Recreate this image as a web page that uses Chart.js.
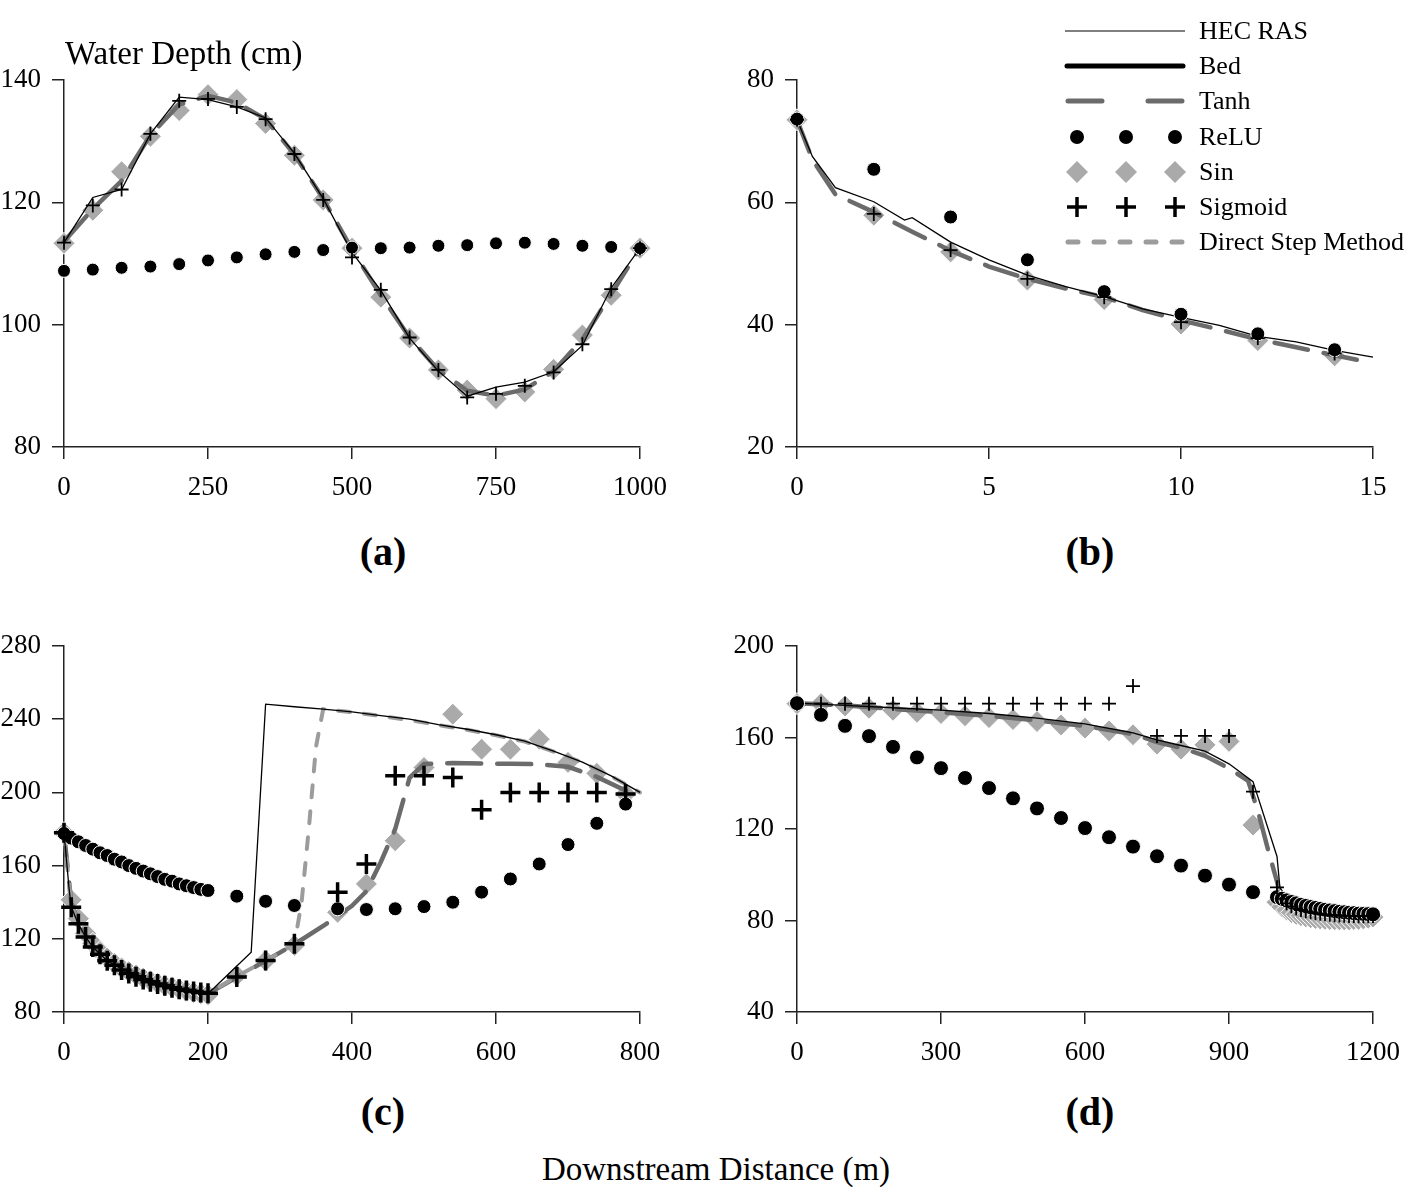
<!DOCTYPE html>
<html>
<head>
<meta charset="utf-8">
<script src="https://cdn.jsdelivr.net/npm/chart.js@4.4.0/dist/chart.umd.min.js"></script>
<style>
  body { margin: 0; background: #fff; font-family: "Liberation Serif", serif; }
  #page { position: relative; width: 1419px; height: 1187px; }
  canvas { position: absolute; }
  .lbl { position: absolute; line-height: 1; color: #000; white-space: nowrap; }
  .panel { width: 200px; text-align: center; font-weight: bold; font-size: 40px; }
</style>
</head>
<body>
<div id="page">
  <canvas id="chart-a" width="680" height="462" style="left:0;top:40px"></canvas>
  <canvas id="chart-b" width="686" height="502" style="left:733px;top:0"></canvas>
  <canvas id="chart-c" width="680" height="467" style="left:0;top:600px"></canvas>
  <canvas id="chart-d" width="686" height="467" style="left:733px;top:600px"></canvas>
  <div class="lbl" style="left:65px;top:37px;font-size:33px">Water Depth (cm)</div>
  <div class="lbl panel" style="left:283px;top:532px">(a)</div>
  <div class="lbl panel" style="left:990px;top:532px">(b)</div>
  <div class="lbl panel" style="left:283px;top:1092px">(c)</div>
  <div class="lbl panel" style="left:990px;top:1092px">(d)</div>
  <div class="lbl" style="left:0;width:1432px;text-align:center;top:1153px;font-size:33px">Downstream Distance (m)</div>
</div>
<script>
// ---- (a) sine-shaped bed ----
const aX = [0, 50, 100, 150, 200, 250, 300, 350, 400, 450, 500, 550, 600, 650, 700, 750, 800, 850, 900, 950, 1000];
const aHec = [113.4, 120.8, 122.1, 131.2, 137.2, 136.8, 135.6, 133.8, 128.0, 120.6, 111.8, 105.6, 97.8, 92.4, 88.3, 89.8, 90.6, 92.3, 96.6, 106.0, 112.5];
const aTanh = [113.6, 118.9, 123.5, 131.0, 136.0, 137.4, 136.3, 133.6, 127.8, 120.6, 112.3, 104.8, 97.9, 92.6, 89.2, 88.4, 89.4, 92.4, 97.6, 105.0, 112.5];
const aSin = [113.3, 118.7, 125.0, 130.8, 135.0, 137.6, 136.8, 132.9, 127.7, 120.4, 112.5, 104.5, 97.8, 92.6, 89.3, 87.9, 89.0, 92.7, 98.3, 104.8, 112.5];
const aRelu = [108.8, 109.0, 109.3, 109.5, 109.9, 110.5, 111.0, 111.5, 111.9, 112.2, 112.6, 112.5, 112.6, 112.9, 113.0, 113.3, 113.4, 113.2, 112.9, 112.7, 112.5];
const aSig = [113.4, 119.5, 122.1, 131.2, 136.6, 136.9, 135.6, 133.6, 127.9, 120.4, 111.0, 105.7, 97.9, 92.6, 88.1, 88.7, 90.0, 92.2, 96.8, 105.8, 112.5];

// ---- (b) ----
const bX = [0, 2, 4, 6, 8, 10, 12, 14];
const bSig = [73.5, 58.1, 52.2, 47.5, 44.5, 40.4, 37.8, 35.3];
const bSin = [73.5, 57.9, 51.9, 47.3, 44.1, 40.1, 37.4, 34.9];
const bRelu = [73.6, 65.4, 57.6, 50.6, 45.4, 41.7, 38.5, 35.9];
const bHecX = [0, 0.4, 1, 2, 2.8, 3, 4, 5, 6, 7, 8, 9, 10, 11, 12, 13, 14, 15];
const bHec = [73.5, 67.5, 62.4, 60.1, 57.1, 57.5, 53.5, 50.6, 48.1, 46.2, 44.6, 42.6, 41.2, 39.9, 38.1, 37.2, 35.8, 34.7];
const bTanhX = [0, 0.4, 1, 2, 3, 4, 5, 6, 7, 8, 9, 10, 11, 12, 13, 14, 14.8];
const bTanh = [73.5, 67.0, 61.3, 58.4, 55.2, 52.1, 49.5, 47.5, 45.9, 44.5, 42.4, 40.7, 39.2, 37.6, 36.3, 35.0, 34.0];

// ---- (c) hydraulic jump ----
const cX = [0, 10, 20, 30, 40, 50, 60, 70, 80, 90, 100, 110, 120, 130, 140, 150, 160, 170, 180, 190, 200,
            240, 280, 320, 380, 420, 460, 500, 540, 580, 620, 660, 700, 740, 780];
const cRelu = [177.5, 175, 173, 171, 169, 167, 165.5, 163.5, 162, 160, 158.5, 157, 155.5, 154, 152.5, 151.5, 150, 149, 148, 147, 146.4,
               143.3, 140.5, 138.2, 136.4, 136, 136.4, 137.6, 140, 145.5, 152.7, 160.9, 171.5, 183.1, 193.6];
const cSig = [178, 137.3, 128.2, 121, 115.5, 111.5, 108, 105.5, 103, 101, 99.2, 97.8, 96.5, 95.3, 94.3, 93.3, 92.5, 91.8, 91.2, 90.6, 90.2,
              99.1, 108.2, 117.3, 145.5, 160.9, 209.1, 209.1, 208.2, 190.5, 200, 200, 200, 200, 199.1];
const cSin = [178, 141.3, 131, 123, 117.5, 113, 109.5, 106.5, 104, 102, 100.2, 98.5, 97, 95.7, 94.5, 93.5, 92.5, 91.5, 90.7, 90, 89.4,
              100, 108, 116.4, 134.5, 150, 173.6, 213.6, 242.7, 223.6, 223.6, 229, 216.4, 210.4, 199.1];
const cHecX = [0, 7, 10, 20, 30, 40, 60, 80, 100, 130, 160, 200, 260, 280, 320, 360, 400, 440, 480, 520, 560, 600, 640, 680, 720, 760, 800];
const cHec = [178, 147.6, 137.5, 128, 121, 115.5, 108, 103.5, 100, 96, 93, 90, 112.7, 248.2, 246.8, 245.5, 244, 242, 240, 237, 234.5, 231.5, 228, 222.5, 216.5, 209, 200];
const cTanhX = [0, 10, 20, 30, 40, 60, 80, 100, 130, 160, 200, 240, 280, 320, 360, 400, 420, 440, 460, 480, 500, 540, 580, 620, 660, 700, 740, 780, 800];
const cTanh = [178, 140, 129, 121.5, 116, 109, 104.5, 100.8, 96.5, 93.3, 90, 99, 108, 117, 127, 138, 146, 162, 180, 208, 215.5, 216, 215.8, 215.6, 215.4, 214, 208.5, 201, 200];
const cDsmX = [0, 10, 20, 30, 40, 60, 80, 100, 130, 160, 200, 240, 280, 320, 330, 340, 350, 360, 400, 440, 480, 520, 560, 600, 640, 680, 720, 760, 800];
const cDsm = [178, 139, 129, 121, 115.5, 108.5, 104, 100.5, 96.2, 93, 90, 99.5, 108, 117, 140, 180, 225, 245.5, 243.8, 241.8, 239.5, 236.8, 234.2, 231.2, 227.8, 222.3, 216.3, 208.8, 200];

// ---- (d) ----
const dX = [0, 50, 100, 150, 200, 250, 300, 350, 400, 450, 500, 550, 600, 650, 700, 750, 800, 850, 900, 950,
            1000, 1010, 1020, 1030, 1040, 1050, 1060, 1070, 1080, 1090, 1100, 1110, 1120, 1130, 1140, 1150, 1160, 1170, 1180, 1190, 1200];
const dRelu = [175.0, 169.9, 165.1, 160.6, 155.9, 151.3, 146.6, 142.3, 137.9, 133.4, 129.0, 124.8, 120.4, 116.4, 112.3, 108.1, 104.0, 99.6, 95.7, 92.4,
               90.2, 89.5, 88.8, 88.1, 87.5, 86.9, 86.4, 85.9, 85.5, 85.1, 84.7, 84.4, 84.1, 83.8, 83.6, 83.4, 83.2, 83.0, 82.9, 82.8, 82.7];
const dSig = [174.8, 174.8, 174.8, 174.8, 174.8, 174.8, 174.8, 174.8, 174.8, 174.8, 174.8, 174.8, 174.8, 174.8, 182.5, 160.7, 160.7, 160.7, 160.7, 136.3,
              94.5, 89.5, 87.5, 86.2, 85.3, 84.6, 84.0, 83.6, 83.2, 82.9, 82.7, 82.5, 82.3, 82.2, 82.1, 82.0, 82.0, 81.9, 81.9, 81.9, 82.0];
const dSin = [174.8, 174.8, 173.8, 172.8, 171.9, 171.0, 170.5, 169.5, 168.7, 167.9, 167.0, 165.5, 164.1, 162.9, 161.2, 157.1, 154.9, 156.8, 158.3, 121.7,
              88.0, 86.0, 84.6, 83.5, 82.7, 82.1, 81.6, 81.2, 80.9, 80.7, 80.5, 80.4, 80.3, 80.3, 80.3, 80.3, 80.4, 80.5, 80.7, 81.0, 81.5];
const dHecX = [0, 100, 200, 300, 400, 500, 600, 700, 750, 800, 850, 900, 950, 1000, 1006, 1020, 1050, 1100, 1150, 1200];
const dHec = [175, 174, 173, 172, 170.5, 168.5, 166, 162, 159, 156.5, 154, 148.5, 140.7, 108, 94.5, 90, 87, 84.5, 83, 82.5];
const dTanhX = [0, 100, 200, 300, 400, 500, 600, 700, 750, 800, 850, 900, 940, 960, 980, 1000, 1010, 1050, 1100, 1150, 1200];
const dTanh = [175, 174, 172.5, 171, 169.5, 167.5, 165, 161.5, 158, 155.5, 152, 146.5, 141, 128, 112, 97, 88, 85, 83.5, 82.5, 82];

const legendLabels = ['HEC RAS', 'Bed', 'Tanh', 'ReLU', 'Sin', 'Sigmoid', 'Direct Step Method'];

Chart.defaults.font.family = '"Liberation Serif", serif';
Chart.defaults.font.size = 27;
Chart.defaults.color = '#000';

const SIN_GREY = '#aaaaaa';
const TANH_GREY = '#6b6b6b';
const DSM_GREY = '#9c9c9c';

function pts(xs, ys) {
    return xs.map((x, i) => ({ x: x, y: ys[i] }));
}

function hecSet(xs, ys) {
    return { label: 'HEC RAS', data: pts(xs, ys), borderColor: '#000', borderWidth: 1.3, pointRadius: 0, order: 3, clip: false };
}
function tanhSet(xs, ys) {
    return { label: 'Tanh', data: pts(xs, ys), borderColor: TANH_GREY, borderWidth: 4.5, borderDash: [34, 16],
             borderCapStyle: 'round', pointRadius: 0, order: 5, clip: false };
}
function dsmSet(xs, ys) {
    return { label: 'Direct Step Method', data: pts(xs, ys), borderColor: DSM_GREY, borderWidth: 4, borderDash: [12, 14],
             borderCapStyle: 'round', pointRadius: 0, order: 4, clip: false };
}
function reluSet(xs, ys, r) {
    return { label: 'ReLU', data: pts(xs, ys), showLine: false, pointStyle: 'circle', pointRadius: r,
             pointBackgroundColor: '#000', pointBorderColor: '#fff', pointBorderWidth: 1, order: 2, clip: false };
}
function sinSet(xs, ys, r) {
    return { label: 'Sin', data: pts(xs, ys), showLine: false, pointStyle: 'rectRot', pointRadius: r,
             pointBackgroundColor: SIN_GREY, pointBorderColor: '#fff', pointBorderWidth: 1, order: 6, clip: false };
}
function sigSet(xs, ys, r, w) {
    return { label: 'Sigmoid', data: pts(xs, ys), showLine: false, pointStyle: 'cross', pointRadius: r,
             pointBorderColor: '#000', pointBorderWidth: w, order: 1, clip: false };
}

function axis(min, max, step, isX) {
    return {
        type: 'linear', min: min, max: max,
        ticks: { stepSize: step, padding: isX ? 13 : 11, color: '#000', font: { size: 27 },
                 callback: (v) => String(v) },
        grid: { drawOnChartArea: false, drawTicks: true, tickLength: 12, color: '#222', lineWidth: 1.5 },
        border: { display: true, color: '#222', width: 1.5 },
        afterFit: isX ? (s) => { s.height = 55; } : (s) => { s.width = 64; }
    };
}

// legend drawn inside panel (b), top-right
const legendPlugin = {
    id: 'sideLegend',
    afterDraw(chart) {
        const ctx = chart.ctx;
        const x0 = 332, x1 = 452, tx = 466;
        const rows = [31, 66, 101, 137, 172, 207, 242];
        const marks = [344, 393, 442];
        ctx.save();
        ctx.font = '26px "Liberation Serif", serif';
        ctx.fillStyle = '#000';
        ctx.textBaseline = 'middle';
        legendLabels.forEach((lab, i) => {
            const y = rows[i];
            ctx.save();
            ctx.lineCap = 'round';
            if (lab === 'HEC RAS') {
                ctx.strokeStyle = '#000'; ctx.lineWidth = 1.2; ctx.lineCap = 'butt';
                ctx.beginPath(); ctx.moveTo(x0, y); ctx.lineTo(x1, y); ctx.stroke();
            } else if (lab === 'Bed') {
                ctx.strokeStyle = '#000'; ctx.lineWidth = 5;
                ctx.beginPath(); ctx.moveTo(x0 + 2, y); ctx.lineTo(x1 - 2, y); ctx.stroke();
            } else if (lab === 'Tanh') {
                ctx.strokeStyle = TANH_GREY; ctx.lineWidth = 5;
                ctx.beginPath(); ctx.moveTo(x0 + 3, y); ctx.lineTo(x0 + 37, y);
                ctx.moveTo(x1 - 37, y); ctx.lineTo(x1 - 3, y); ctx.stroke();
            } else if (lab === 'ReLU') {
                marks.forEach(mx => { ctx.beginPath(); ctx.arc(mx, y, 7, 0, Math.PI * 2); ctx.fill(); });
            } else if (lab === 'Sin') {
                ctx.fillStyle = SIN_GREY;
                marks.forEach(mx => {
                    ctx.beginPath(); ctx.moveTo(mx, y - 11); ctx.lineTo(mx + 11, y);
                    ctx.lineTo(mx, y + 11); ctx.lineTo(mx - 11, y); ctx.closePath(); ctx.fill();
                });
            } else if (lab === 'Sigmoid') {
                ctx.strokeStyle = '#000'; ctx.lineWidth = 3.5; ctx.lineCap = 'butt';
                marks.forEach(mx => {
                    ctx.beginPath(); ctx.moveTo(mx - 10, y); ctx.lineTo(mx + 10, y);
                    ctx.moveTo(mx, y - 10); ctx.lineTo(mx, y + 10); ctx.stroke();
                });
            } else {
                ctx.strokeStyle = DSM_GREY; ctx.lineWidth = 5;
                ctx.setLineDash([10, 16]);
                ctx.beginPath(); ctx.moveTo(x0 + 3, y); ctx.lineTo(x1, y); ctx.stroke();
            }
            ctx.restore();
            ctx.fillText(lab, tx, y + 1);
        });
        ctx.restore();
    }
};

function makeChart(id, datasets, xr, yr, padding, plugins) {
    new Chart(document.getElementById(id), {
        type: 'line',
        data: { datasets: datasets },
        options: {
            responsive: false,
            animation: false,
            events: [],
            layout: { padding: padding },
            elements: { line: { tension: 0, fill: false } },
            scales: { x: axis(xr[0], xr[1], xr[2], true), y: axis(yr[0], yr[1], yr[2], false) },
            plugins: { legend: { display: false }, tooltip: { enabled: false } }
        },
        plugins: plugins || []
    });
}

makeChart('chart-a', [
    hecSet(aX, aHec), tanhSet(aX, aTanh), sinSet(aX, aSin, 11), reluSet(aX, aRelu, 6.5), sigSet(aX, aSig, 7, 1.8)
], [0, 1000, 250], [80, 140, 20], { left: 0, top: 40, right: 40, bottom: 0 });

makeChart('chart-b', [
    hecSet(bHecX, bHec), tanhSet(bTanhX, bTanh), sinSet(bX, bSin, 11), reluSet(bX, bRelu, 7), sigSet(bX, bSig, 7, 1.8)
], [0, 15, 5], [20, 80, 20], { left: 0, top: 80, right: 46, bottom: 0 }, [legendPlugin]);

makeChart('chart-c', [
    hecSet(cHecX, cHec), tanhSet(cTanhX, cTanh), dsmSet(cDsmX, cDsm), sinSet(cX, cSin, 11), reluSet(cX, cRelu, 7), sigSet(cX, cSig, 10, 3.5)
], [0, 800, 200], [80, 280, 40], { left: 0, top: 46, right: 40, bottom: 0 });

makeChart('chart-d', [
    hecSet(dHecX, dHec), tanhSet(dTanhX, dTanh), sinSet(dX, dSin, 11), reluSet(dX, dRelu, 7.5), sigSet(dX, dSig, 7, 1.8)
], [0, 1200, 300], [40, 200, 40], { left: 0, top: 46, right: 46, bottom: 0 });
</script>
</body>
</html>
